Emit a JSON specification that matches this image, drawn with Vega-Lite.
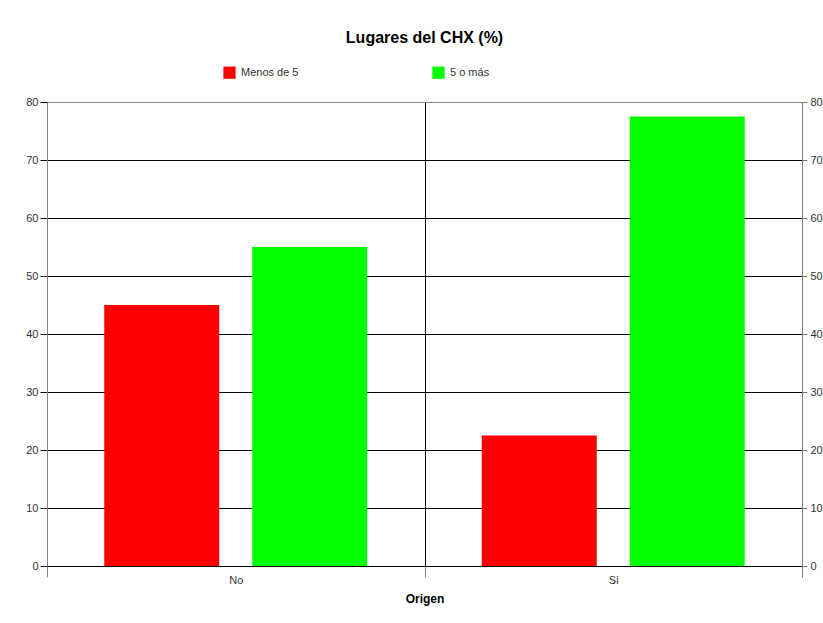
{
  "$schema": "https://vega.github.io/schema/vega-lite/v6.json",
  "width": 755,
  "height": 464,
  "autosize": "none",
  "padding": {"left": 47, "top": 102, "right": 21, "bottom": 57},
  "background": "white",
  "title": {"text": "Lugares del CHX (%)", "font": "Liberation Sans", "fontSize": 16, "fontWeight": "bold", "color": "black", "anchor": "middle", "offset": 20},
  "data": {"values": [
    {"Origen": "No", "Grupo": "Menos de 5", "Porcentaje": 45},
    {"Origen": "No", "Grupo": "5 o más", "Porcentaje": 55},
    {"Origen": "Si", "Grupo": "Menos de 5", "Porcentaje": 22.5},
    {"Origen": "Si", "Grupo": "5 o más", "Porcentaje": 77.5}
  ]},
  "config": {
    "view": {"stroke": "#808080", "strokeWidth": 1},
    "font": "Liberation Sans"
  },
  "resolve": {"axis": {"y": "independent"}, "scale": {"y": "shared"}},
  "layer": [
    {
      "mark": {"type": "bar"},
      "encoding": {
        "x": {
          "field": "Origen", "type": "nominal",
          "scale": {"paddingInner": 0, "paddingOuter": 0},
          "axis": {
            "title": "Origen", "titleFont": "Liberation Sans", "titleFontSize": 12, "titleFontWeight": "bold", "titleColor": "black", "titlePadding": 8,
            "labelAngle": 0, "labelFontSize": 11, "labelColor": "#333333", "labelPadding": -3,
            "tickBand": "extent", "tickSize": 11, "tickColor": "#808080",
            "grid": true, "gridColor": "black", "gridOpacity": 1, "gridWidth": 1,
            "domainColor": "black", "domainWidth": 1
          }
        },
        "xOffset": {"field": "Grupo", "type": "nominal", "sort": ["Menos de 5", "5 o más"], "scale": {"paddingInner": 0.223, "paddingOuter": 0.387}},
        "y": {
          "field": "Porcentaje", "type": "quantitative",
          "scale": {"domain": [0, 80], "nice": false},
          "axis": {
            "title": null, "orient": "left", "values": [0, 10, 20, 30, 40, 50, 60, 70, 80],
            "labelFontSize": 11, "labelColor": "#333333", "labelPadding": 2,
            "tickSize": 7, "tickColor": "black",
            "grid": true, "gridColor": {"condition": {"test": "datum.value == 80", "value": "#808080"}, "value": "black"}, "gridOpacity": 1,
            "domainColor": "#808080"
          }
        },
        "color": {
          "field": "Grupo", "type": "nominal",
          "scale": {"domain": ["Menos de 5", "5 o más"], "range": ["#ff0000", "#00ff00"]},
          "legend": {
            "orient": "none", "legendX": 176, "legendY": -36, "direction": "horizontal", "title": null,
            "symbolType": "square", "symbolSize": 150, "symbolStrokeWidth": 0, "symbolOpacity": 1,
            "labelFontSize": 11, "labelColor": "#333333", "labelOffset": 5, "columnPadding": 133
          }
        }
      }
    },
    {
      "mark": {"type": "bar", "opacity": 0},
      "encoding": {
        "x": {"field": "Origen", "type": "nominal"},
        "xOffset": {"field": "Grupo", "type": "nominal", "sort": ["Menos de 5", "5 o más"]},
        "y": {
          "field": "Porcentaje", "type": "quantitative",
          "axis": {
            "title": null, "orient": "right", "values": [0, 10, 20, 30, 40, 50, 60, 70, 80],
            "labelFontSize": 11, "labelColor": "#333333", "labelPadding": 3,
            "tickSize": 5, "tickColor": "#808080", "grid": false,
            "domainColor": "#808080"
          }
        }
      }
    }
  ]
}
